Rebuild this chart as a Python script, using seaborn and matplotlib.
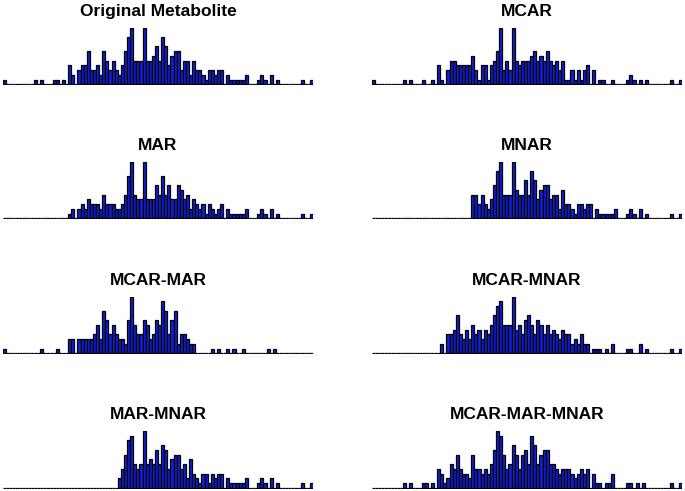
"""
Histogramas de um metabólito original e das versões com valores faltantes
(MCAR, MAR, MNAR e combinações).
"""

import numpy as np
import pandas as pd
import matplotlib
matplotlib.use('Agg')
import matplotlib.pyplot as plt
import seaborn as sns

# Contagens por bin (100 bins, mesmo intervalo em todos os painéis)
original = [1, 0, 0, 0, 0, 0, 0, 0, 0, 0,
            1, 0, 1, 0, 0, 0, 1, 1, 0, 1,
            0, 4, 2, 0, 3, 4, 4, 7, 3, 3,
            4, 2, 7, 5, 3, 5, 3, 2, 4, 7,
            10, 12, 5, 5, 5, 12, 5, 5, 6, 8,
            5, 10, 8, 4, 6, 7, 7, 3, 5, 5,
            2, 5, 3, 3, 2, 1, 3, 3, 2, 3,
            3, 0, 2, 1, 1, 1, 1, 1, 2, 0,
            0, 0, 1, 2, 1, 0, 2, 0, 1, 0,
            0, 0, 0, 0, 0, 0, 1, 0, 0, 1]

mcar = [1, 0, 0, 0, 0, 0, 0, 0, 0, 0,
        1, 0, 1, 0, 0, 0, 1, 0, 0, 1,
        0, 4, 1, 0, 3, 5, 5, 4, 4, 4,
        4, 4, 6, 3, 1, 4, 4, 1, 4, 5,
        7, 12, 3, 5, 3, 12, 5, 4, 5, 5,
        5, 6, 7, 5, 6, 5, 7, 5, 4, 5,
        3, 5, 1, 1, 3, 1, 3, 1, 3, 4,
        0, 3, 0, 1, 1, 0, 0, 1, 0, 0,
        0, 0, 1, 2, 1, 0, 1, 0, 1, 0,
        0, 0, 0, 0, 0, 0, 1, 0, 0, 1]

mar = [0, 0, 0, 0, 0, 0, 0, 0, 0, 0,
       0, 0, 0, 0, 0, 0, 0, 0, 0, 0,
       0, 1, 2, 0, 2, 3, 2, 4, 3, 3,
       3, 2, 5, 3, 3, 3, 2, 2, 3, 5,
       9, 12, 5, 4, 4, 12, 4, 4, 4, 7,
       5, 9, 5, 7, 4, 4, 7, 6, 4, 5,
       2, 4, 3, 2, 3, 1, 3, 2, 1, 2,
       3, 0, 2, 1, 1, 1, 1, 1, 2, 0,
       0, 0, 1, 2, 1, 0, 2, 0, 1, 0,
       0, 0, 0, 0, 0, 0, 1, 0, 0, 1]

mnar = [0, 0, 0, 0, 0, 0, 0, 0, 0, 0,
        0, 0, 0, 0, 0, 0, 0, 0, 0, 0,
        0, 0, 0, 0, 0, 0, 0, 0, 0, 0,
        0, 0, 5, 5, 3, 5, 3, 2, 4, 7,
        10, 12, 5, 5, 5, 12, 6, 5, 5, 8,
        5, 10, 8, 4, 6, 7, 7, 4, 5, 5,
        2, 6, 3, 3, 2, 1, 3, 3, 2, 3,
        3, 0, 2, 1, 1, 1, 1, 1, 2, 0,
        0, 0, 1, 2, 1, 0, 2, 0, 1, 0,
        0, 0, 0, 0, 0, 0, 1, 0, 0, 1]

mcar_mar = [1, 0, 0, 0, 0, 0, 0, 0, 0, 0,
            0, 0, 1, 0, 0, 0, 0, 1, 0, 0,
            0, 3, 3, 0, 3, 3, 3, 3, 3, 4,
            6, 3, 9, 7, 4, 6, 4, 3, 3, 2,
            7, 12, 6, 4, 4, 7, 6, 3, 4, 7,
            6, 11, 9, 4, 7, 9, 2, 4, 4, 3,
            2, 2, 0, 0, 0, 0, 0, 1, 0, 1,
            0, 0, 1, 0, 1, 0, 0, 1, 0, 0,
            0, 0, 0, 0, 0, 1, 0, 1, 0, 0,
            0, 0, 0, 0, 0, 0, 0, 0, 0, 0]

mcar_mnar = [0, 0, 0, 0, 0, 0, 0, 0, 0, 0,
             0, 0, 0, 0, 0, 0, 0, 0, 0, 0,
             0, 0, 2, 0, 4, 4, 5, 8, 4, 3,
             5, 3, 6, 4, 5, 3, 5, 4, 6, 8,
             10, 11, 6, 6, 6, 12, 5, 6, 4, 7,
             8, 6, 4, 7, 6, 4, 6, 4, 5, 4,
             3, 5, 4, 4, 2, 3, 2, 4, 2, 2,
             0, 1, 1, 1, 0, 1, 0, 2, 0, 0,
             0, 0, 1, 1, 0, 0, 2, 0, 1, 0,
             0, 0, 0, 0, 0, 0, 1, 0, 0, 1]

mar_mnar = [0, 0, 0, 0, 0, 0, 0, 0, 0, 0,
            0, 0, 0, 0, 0, 0, 0, 0, 0, 0,
            0, 0, 0, 0, 0, 0, 0, 0, 0, 0,
            0, 0, 0, 0, 0, 0, 0, 2, 4, 7,
            10, 11, 5, 4, 5, 12, 5, 6, 5, 8,
            5, 9, 8, 4, 6, 7, 7, 4, 5, 2,
            6, 3, 2, 1, 3, 3, 1, 3, 2, 3,
            3, 0, 2, 1, 1, 1, 1, 1, 2, 0,
            0, 0, 1, 2, 1, 0, 2, 0, 1, 0,
            0, 0, 0, 0, 0, 0, 1, 0, 0, 1]

mcar_mar_mnar = [0, 0, 0, 0, 0, 0, 0, 0, 0, 0,
                 1, 0, 1, 0, 0, 0, 1, 1, 0, 1,
                 0, 4, 3, 1, 2, 5, 4, 7, 4, 3,
                 3, 2, 7, 4, 4, 3, 4, 3, 5, 8,
                 12, 11, 7, 4, 5, 9, 7, 4, 7, 8,
                 5, 11, 9, 5, 7, 8, 8, 5, 5, 4,
                 3, 4, 4, 4, 3, 2, 3, 4, 3, 4,
                 0, 3, 1, 1, 0, 1, 1, 3, 0, 0,
                 0, 0, 1, 1, 0, 1, 0, 1, 0, 0,
                 0, 0, 0, 0, 0, 0, 1, 0, 0, 1]

titles = ['Original Metabolite', 'MCAR', 'MAR', 'MNAR',
          'MCAR-MAR', 'MCAR-MNAR', 'MAR-MNAR', 'MCAR-MAR-MNAR']
series = [original, mcar, mar, mnar, mcar_mar, mcar_mnar, mar_mnar, mcar_mar_mnar]

n_bins = 100

sns.set_style('white')
plt.rcParams['font.family'] = ['Liberation Sans', 'DejaVu Sans']

W, H = 685, 491
fig = plt.figure(figsize=(W / 100, H / 100), dpi=100)

# Posições dos painéis em pixels (esquerda de cada coluna, base de cada linha)
col_left = [3, 372]
row_base = [85, 219, 354, 488.5]
panel_w, panel_h = 310, 57.5

for k, (title, counts) in enumerate(zip(titles, series)):
    r, c = divmod(k, 2)
    ax = fig.add_axes([col_left[c] / W, 1 - row_base[r] / H,
                       panel_w / W, panel_h / H])
    df = pd.DataFrame({'bin': np.arange(n_bins) + 0.5, 'count': counts})
    sns.histplot(data=df, x='bin', weights='count', bins=n_bins,
                 binrange=(0, n_bins), ax=ax,
                 color='#1020d8', edgecolor='black', linewidth=0.9, alpha=1)
    ax.set_xlim(0, n_bins)
    ax.set_ylim(-0.12, max(counts))
    ax.set_axis_off()
    ax.set_title(title, fontsize=12.5, fontweight='bold', color='black', pad=8.5)

plt.savefig('out.png', dpi=100)
